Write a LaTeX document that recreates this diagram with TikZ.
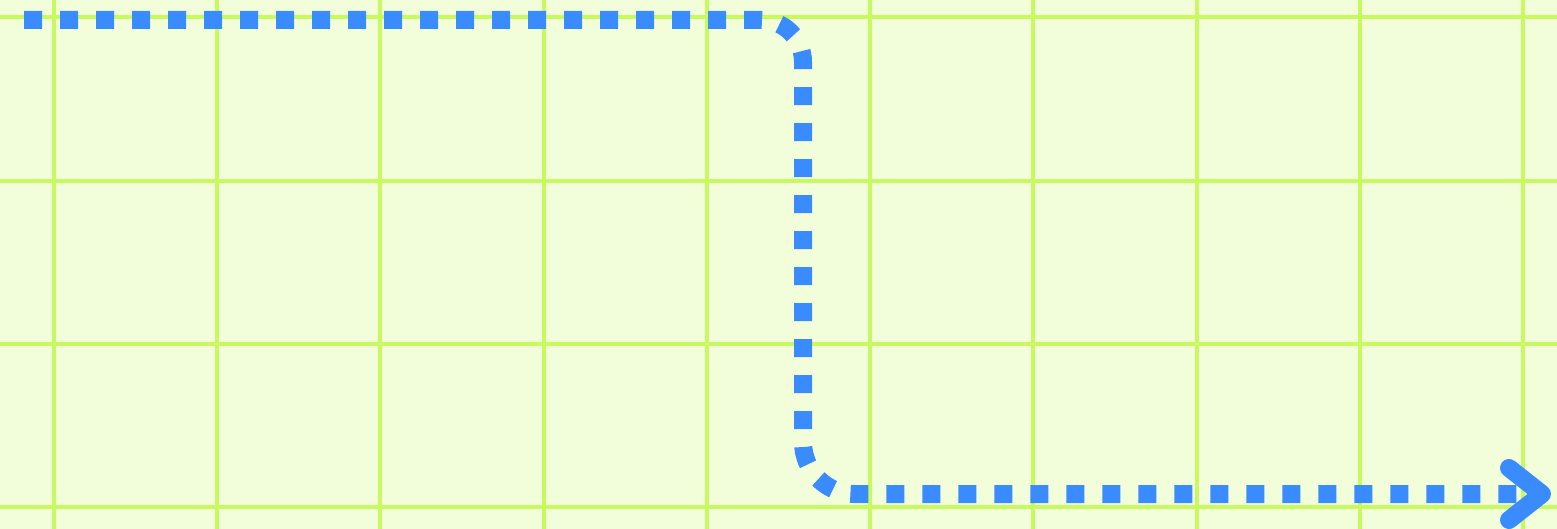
\documentclass[tikz,border=0pt]{standalone}
\definecolor{bgc}{HTML}{F2FEDA}
\definecolor{gridc}{HTML}{C8FA5F}
\definecolor{blu}{HTML}{3A8BFD}
\begin{document}
\begin{tikzpicture}[x=1pt,y=-1pt,
  gridline/.style={gridc, line width=4pt},
  dotpath/.style={blu, line width=18pt, dash pattern=on 18pt off 18pt, rounded corners=42pt},
  chevron/.style={blu, line width=18pt, line cap=round, line join=round}]
\fill[bgc] (0,0) rectangle (1557,529);
\useasboundingbox (0,0) rectangle (1557,529);
\foreach \i in {0,...,9} \draw[gridline] ({54+163.22*\i},0) -- ++(0,529);
\foreach \y in {17,181,344,507} \draw[gridline] (0,\y) -- (1557,\y);
\coordinate (s) at (24,20);
\coordinate (c1) at (803,20);
\coordinate (c2) at (803,494);
\coordinate (e) at (1530,494);
\coordinate (t) at (1542,494);
\coordinate (a1) at (1509,468);
\coordinate (a2) at (1509,520);
\draw[dotpath] (s) -- (c1) [rounded corners=52pt] -- (c2) -- (e);
\draw[chevron] (a1) -- (t) -- (a2);
\end{tikzpicture}
\end{document}
